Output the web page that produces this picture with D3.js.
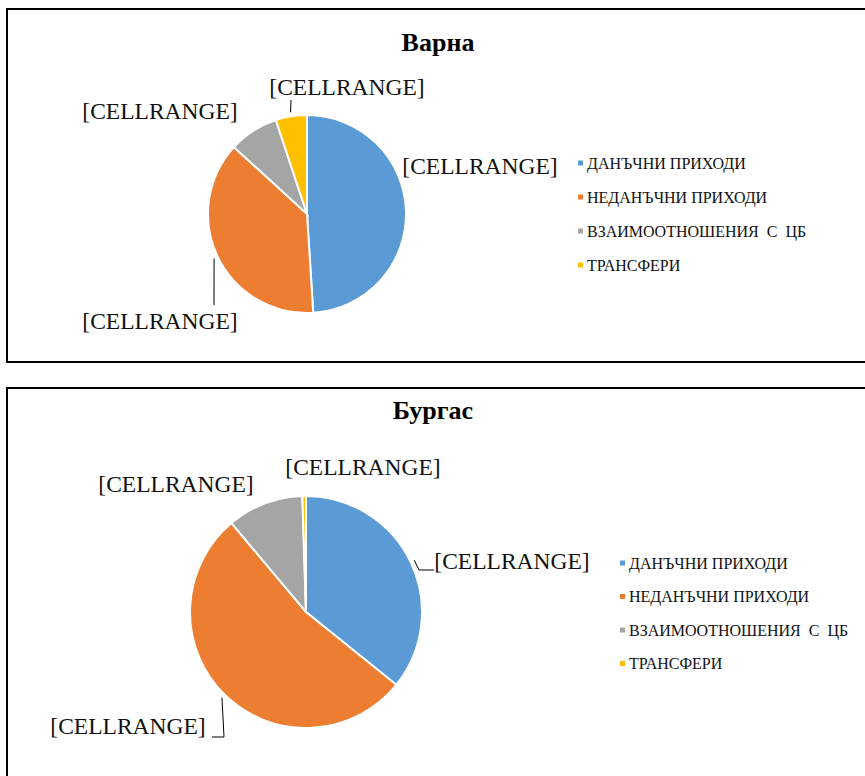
<!DOCTYPE html>
<html>
<head>
<meta charset="utf-8">
<script src="https://cdn.jsdelivr.net/npm/d3@7"></script>
<style>
  body { margin: 0; background: #fff; }
  svg { display: block; }
</style>
</head>
<body>
<script>
// categories shared by both cities
var categories = ["ДАНЪЧНИ ПРИХОДИ", "НЕДАНЪЧНИ ПРИХОДИ", "ВЗАИМООТНОШЕНИЯ  С  ЦБ", "ТРАНСФЕРИ"];
// shares in %
var varnaValues = [49.0, 37.8, 8.1, 5.1];
var burgasValues = [35.8, 53.1, 10.6, 0.5];
var cityNames = ["Варна", "Бургас"];
var labelText = "[CELLRANGE]";

var colors = ["#5B9BD5", "#ED7D31", "#A5A5A5", "#FFC000"];
var serif = "'Liberation Serif', 'Times New Roman', serif";

var width = 865, height = 776;

var svg = d3.select("body").append("svg")
    .attr("width", width)
    .attr("height", height);

var panels = [
  {
    name: cityNames[0], values: varnaValues,
    box: {x: 7, y: 9, w: 880, h: 353},
    title: {x: 438, y: 51},
    cx: 307, cy: 214, r: 99,
    labels: [
      {x: 480, y: 166},
      {x: 160, y: 321, leader: [[214, 305]]},
      {x: 160, y: 111},
      {x: 347, y: 87, leader: [[291, 100]]}
    ],
    legend: {x: 578, y: 163, step: 34}
  },
  {
    name: cityNames[1], values: burgasValues,
    box: {x: 7, y: 388, w: 880, h: 400},
    title: {x: 433, y: 419},
    cx: 306, cy: 612, r: 116,
    labels: [
      {x: 512, y: 561, leader: [[419, 570], [434, 570]]},
      {x: 128, y: 726, leader: [[224, 737], [212, 737]]},
      {x: 176, y: 484},
      {x: 363, y: 467}
    ],
    legend: {x: 620, y: 563, step: 33.5}
  }
];

var pie = d3.pie().sort(null).value(function(d) { return d; });

panels.forEach(function(p) {
  var g = svg.append("g");

  g.append("rect")
      .attr("x", p.box.x).attr("y", p.box.y)
      .attr("width", p.box.w).attr("height", p.box.h)
      .style("fill", "none")
      .style("stroke", "#000")
      .style("stroke-width", 2);

  g.append("text")
      .attr("x", p.title.x).attr("y", p.title.y)
      .attr("text-anchor", "middle")
      .style("font-family", serif)
      .style("font-weight", "bold")
      .style("font-size", "26px")
      .text(p.name);

  var arc = d3.arc().innerRadius(0).outerRadius(p.r);
  var arcs = pie(p.values);

  var pieG = g.append("g").attr("transform", "translate(" + p.cx + "," + p.cy + ")");
  pieG.selectAll("path")
      .data(arcs)
      .enter().append("path")
      .attr("d", arc)
      .style("fill", function(d, i) { return colors[i]; })
      .style("stroke", "#fff")
      .style("stroke-width", 2);

  // leader lines start just outside the slice, at its middle angle
  arcs.forEach(function(d, i) {
    var lab = p.labels[i];
    if (!lab.leader) return;
    var mid = (d.startAngle + d.endAngle) / 2,
        rr = p.r + 4;
    var pts = [[p.cx + Math.sin(mid) * rr, p.cy - Math.cos(mid) * rr]].concat(lab.leader);
    g.append("path")
        .attr("d", d3.line()(pts))
        .style("fill", "none")
        .style("stroke", "#000")
        .style("stroke-width", 1);
  });

  g.selectAll("text.lbl")
      .data(arcs)
      .enter().append("text")
      .attr("class", "lbl")
      .attr("x", function(d, i) { return p.labels[i].x; })
      .attr("y", function(d, i) { return p.labels[i].y + 8; })
      .attr("text-anchor", "middle")
      .style("font-family", serif)
      .style("font-size", "23.5px")
      .style("fill", "#111")
      .text(labelText);

  var leg = g.selectAll("g.leg")
      .data(categories)
      .enter().append("g")
      .attr("class", "leg")
      .attr("transform", function(d, i) {
        return "translate(" + p.legend.x + "," + (p.legend.y + i * p.legend.step) + ")";
      });

  leg.append("rect")
      .attr("x", 0).attr("y", -2.5)
      .attr("width", 5).attr("height", 5)
      .style("fill", function(d, i) { return colors[i]; });

  leg.append("text")
      .attr("x", 9).attr("y", 5.5)
      .style("font-family", serif)
      .style("font-size", "16px")
      .style("fill", "#111")
      .style("white-space", "pre")
      .attr("xml:space", "preserve")
      .text(function(d) { return d; });
});
</script>
</body>
</html>
